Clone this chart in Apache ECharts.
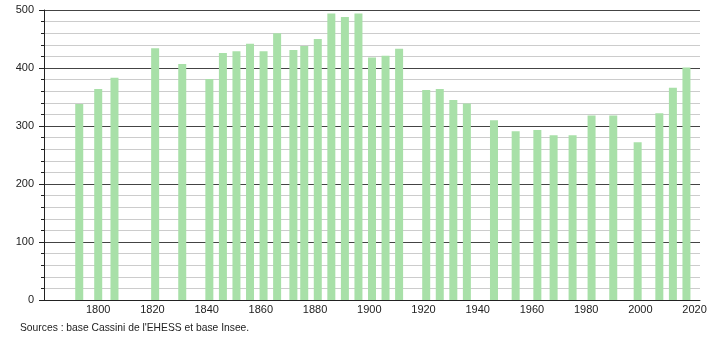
<!DOCTYPE html>
<html>
<head>
<meta charset="utf-8">
<script src="https://cdn.jsdelivr.net/npm/echarts@6/dist/echarts.min.js"></script>
<style>html,body{margin:0;padding:0;background:#fff;}#c{width:710px;height:340px;}</style>
</head>
<body>
<div id="c"></div>
<script>
const years = [1793,1800,1806,1821,1831,1841,1846,1851,1856,1861,1866,1872,1876,1881,1886,1891,1896,1901,1906,1911,1921,1926,1931,1936,1946,1954,1962,1968,1975,1982,1990,1999,2007,2012,2017];
const population = [338,364,383,434,407,381,426,429,442,429,460,431,438,450,494,488,494,418,421,433,362,364,345,339,310,291,293,284,284,318,318,272,322,366,401];
const yTicks = [0,100,200,300,400,500];
const xTickLabels = [1800,1820,1840,1860,1880,1900,1920,1940,1960,1980,2000,2020];
const sourceText = "Sources : base Cassini de l'EHESS et base Insee.";

const chart = echarts.init(document.getElementById('c'), null, {renderer:'canvas'});
const font = 'Liberation Sans, Arial, sans-serif';
chart.setOption({
  animation: false,
  grid: {left: 44, right: 10, top: 10, bottom: 40},
  xAxis: {
    type: 'value', min: 1780, max: 2022, interval: 20,
    axisLine: {show: true, lineStyle: {color: '#222', width: 1}},
    axisTick: {show: false},
    splitLine: {show: false},
    axisLabel: {
      margin: 4, fontSize: 11, color: '#222', fontFamily: font,
      formatter: v => xTickLabels.includes(v) ? String(v) : ''
    }
  },
  yAxis: {
    type: 'value', min: yTicks[0], max: yTicks[yTicks.length-1], interval: 100,
    axisLine: {show: true, lineStyle: {color: '#222', width: 1}},
    axisTick: {show: true, length: 5, lineStyle: {color: '#222'}},
    minorTick: {show: true, splitNumber: 5, length: 3, lineStyle: {color: '#222'}},
    splitLine: {show: true, lineStyle: {color: '#444', width: 1}},
    minorSplitLine: {show: true, lineStyle: {color: '#cccccc', width: 1}},
    axisLabel: {margin: 10, fontSize: 11, color: '#222', fontFamily: font}
  },
  series: [{
    type: 'bar',
    barWidth: 8,
    data: years.map((y, i) => [y, population[i]]),
    itemStyle: {color: '#a8e0a8'},
    z: 3
  }],
  graphic: [{
    type: 'text', left: 20, top: 323,
    style: {text: sourceText, font: '10.3px ' + font, fill: '#222'}
  }]
});
</script>
</body>
</html>
